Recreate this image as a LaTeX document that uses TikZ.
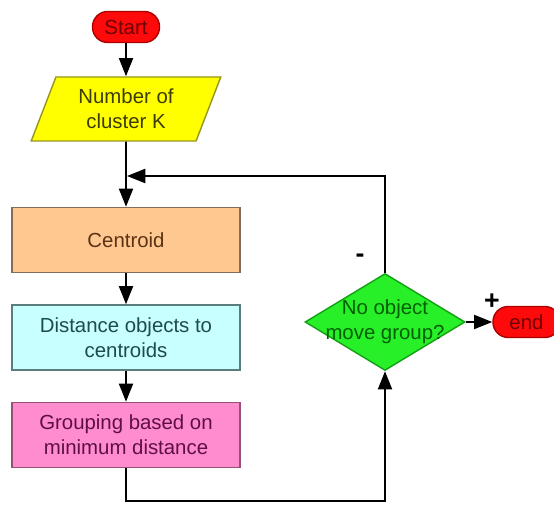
\documentclass[tikz,border=0pt]{standalone}
\usepackage{fontspec}
\setmainfont{Liberation Sans}
\usepackage{tikz}
\usetikzlibrary{shapes.geometric, arrows.meta}
\definecolor{termfill}{RGB}{255,10,10}
\definecolor{termdraw}{RGB}{170,0,0}
\definecolor{termtext}{RGB}{110,0,0}
\definecolor{infill}{RGB}{255,255,0}
\definecolor{indraw}{RGB}{150,150,30}
\definecolor{intext}{RGB}{60,60,0}
\definecolor{cenfill}{RGB}{255,200,145}
\definecolor{cendraw}{RGB}{130,110,90}
\definecolor{centext}{RGB}{90,50,20}
\definecolor{disfill}{RGB}{200,255,255}
\definecolor{disdraw}{RGB}{90,125,125}
\definecolor{distext}{RGB}{30,75,75}
\definecolor{grpfill}{RGB}{255,140,205}
\definecolor{grpdraw}{RGB}{150,80,120}
\definecolor{grptext}{RGB}{95,15,70}
\definecolor{decfill}{RGB}{40,240,40}
\definecolor{decdraw}{RGB}{20,160,20}
\definecolor{dectext}{RGB}{0,95,0}
\newcommand{\chartfont}{\fontsize{14.5}{17.5}\selectfont}
\newcommand{\signfont}{\fontsize{19}{21}\selectfont\bfseries}

\begin{document}
\begin{tikzpicture}[font=\chartfont,
  terminal/.style={rectangle, rounded corners=0.38cm, draw=termdraw, fill=termfill,
    text=termtext, line width=1pt, minimum width=1.675cm, minimum height=0.775cm, inner sep=0pt},
  process/.style={rectangle, line width=1pt, minimum width=5.7cm, minimum height=1.625cm,
    align=center, inner sep=0pt},
  decision/.style={diamond, draw=decdraw, fill=decfill, line width=1pt,
    minimum width=4cm, minimum height=2.425cm, inner sep=0pt},
  flow/.style={line width=1.4pt, -{Triangle[length=13pt, width=10pt]}}]
  \useasboundingbox (0,0) rectangle (13.85,12.65);
  % left column, top to bottom
  \node[terminal] (start) at (3.15,11.975) {Start};
  \node[trapezium, trapezium left angle=67, trapezium right angle=113, trapezium stretches=true,
    draw=indraw, fill=infill, text=intext, line width=1pt, align=center, inner sep=0pt,
    minimum width=4.75cm, minimum height=1.6cm] (input) at (3.15,9.925) {Number of\\cluster K};
  \node[process, draw=cendraw, fill=cenfill, text=centext] (centroid) at (3.15,6.65) {Centroid};
  \node[process, draw=disdraw, fill=disfill, text=distext] (dist) at (3.15,4.2125)
    {Distance objects to\\centroids};
  \node[process, draw=grpdraw, fill=grpfill, text=grptext] (group) at (3.15,1.775)
    {Grouping based on\\minimum distance};
  % test and exit
  \node[decision] (check) at (9.625,4.6) {};
  \node[text=dectext, align=center] (checktext) at (check) {No object\\move group?};
  \node[terminal] (end) at (13.1625,4.6) {end};
  \node[font=\signfont] (minus) at (9.0,6.2) {-};
  \node[font=\signfont] (plus) at (12.3,5.1) {+};
  \coordinate (loop) at (3.15,8.25);
  \coordinate (base) at (3.15,0.125);
  % connectors
  \draw[flow] (start) -- (input);
  \draw[flow] (input) -- (centroid);
  \draw[flow] (centroid) -- (dist);
  \draw[flow] (dist) -- (group);
  \draw[flow] (group.south) -- (base) -| (check.south);
  \draw[flow, shorten >=0.7pt] (check.north) |- (loop);
  \draw[flow] (check.east) -- (end.west);
\end{tikzpicture}
\end{document}
